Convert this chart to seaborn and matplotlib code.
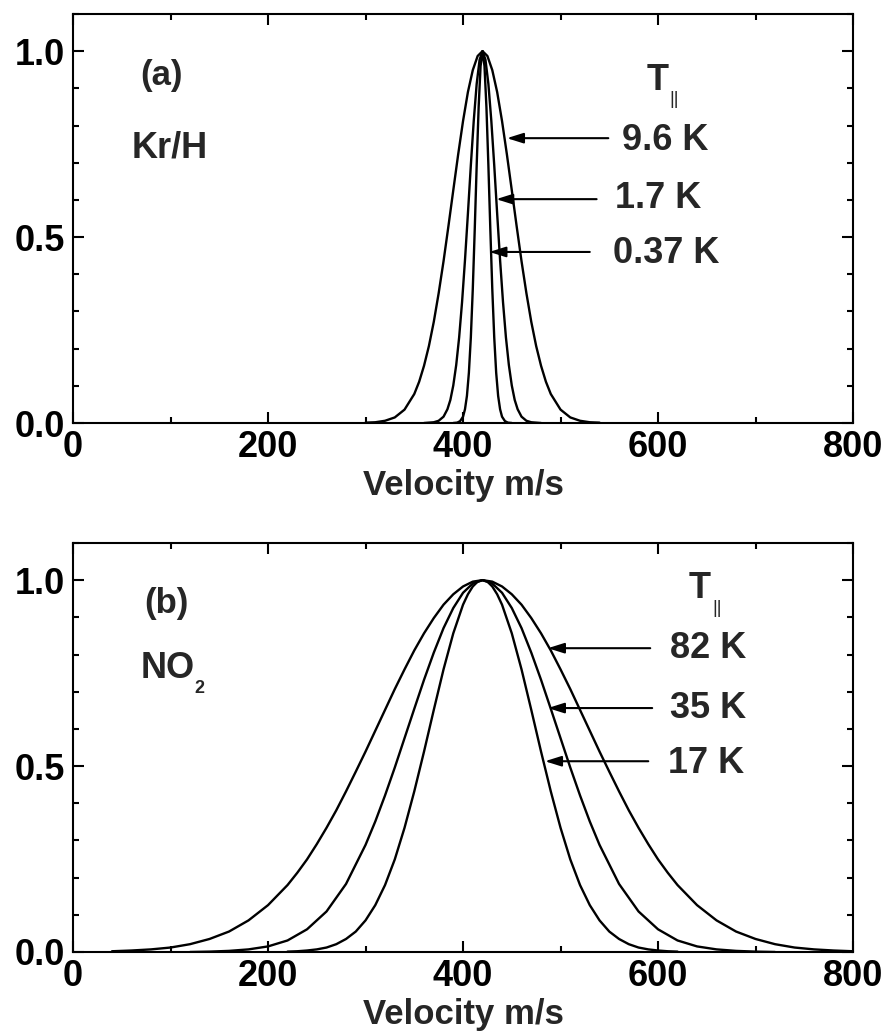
import numpy as np
import pandas as pd
import seaborn as sns
import matplotlib
matplotlib.use("Agg")
import matplotlib.pyplot as plt
from matplotlib.ticker import MultipleLocator

# ---------------- data ----------------
# Panel (a): Kr/H, parallel temperatures 9.6 K, 1.7 K, 0.37 K
kr_v_96 = [300, 310, 320, 330, 340, 350, 355, 360, 365, 370, 375, 380, 385, 390, 395,
           400, 405, 410, 415, 420, 425, 430, 435, 440, 445, 450, 455, 460, 465, 470,
           475, 480, 485, 490, 500, 510, 520, 530, 540]
kr_f_96 = [0.001, 0.002, 0.006, 0.015, 0.036, 0.078, 0.111, 0.154, 0.207, 0.272, 0.349,
           0.435, 0.529, 0.626, 0.722, 0.812, 0.890, 0.949, 0.987, 1.000, 0.987, 0.949,
           0.890, 0.812, 0.722, 0.626, 0.529, 0.435, 0.349, 0.272, 0.207, 0.154, 0.111,
           0.078, 0.036, 0.015, 0.006, 0.002, 0.001]

kr_v_17 = [360, 370, 375, 380, 384, 387, 390, 393, 396, 399, 402, 405, 408, 411, 414, 417,
           420, 423, 426, 429, 432, 435, 438, 441, 444, 447, 450, 453, 456, 460, 465, 470, 480]
kr_f_17 = [0.000, 0.002, 0.006, 0.017, 0.037, 0.062, 0.101, 0.156, 0.230, 0.325, 0.438,
           0.563, 0.693, 0.813, 0.912, 0.977, 1.000, 0.977, 0.912, 0.813, 0.693, 0.563,
           0.438, 0.325, 0.230, 0.156, 0.101, 0.062, 0.037, 0.017, 0.006, 0.002, 0.000]

kr_v_037 = [390, 394, 397, 400, 402, 404, 406, 408, 410, 412, 414, 416, 418, 420,
            422, 424, 426, 428, 430, 432, 434, 436, 438, 440, 443, 446, 450]
kr_f_037 = [0.000, 0.001, 0.005, 0.017, 0.037, 0.073, 0.135, 0.230, 0.360, 0.520, 0.693,
            0.849, 0.960, 1.000, 0.960, 0.849, 0.693, 0.520, 0.360, 0.230, 0.135, 0.073,
            0.037, 0.017, 0.005, 0.001, 0.000]

# Panel (b): NO2, parallel temperatures 82 K, 35 K, 17 K
no2_v_82 = [40, 60, 80, 100, 120, 140, 160, 180, 200, 220,
            230, 240, 250, 260, 270, 280, 290, 300, 310, 320, 330, 340, 350, 360, 370,
            380, 390, 400, 410, 420, 430, 440, 450, 460, 470, 480, 490, 500, 510, 520,
            530, 540, 550, 560, 570, 580, 590, 600, 610,
            620, 640, 660, 680, 700, 720, 740, 760, 780, 800]
no2_f_82 = [0.002, 0.004, 0.007, 0.012, 0.021, 0.035, 0.055, 0.085, 0.126, 0.180,
            0.213, 0.249, 0.290, 0.334, 0.381, 0.432, 0.485, 0.539, 0.595, 0.651, 0.707,
            0.760, 0.811, 0.857, 0.898, 0.934, 0.962, 0.983, 0.996, 1.000, 0.996, 0.983,
            0.962, 0.934, 0.898, 0.857, 0.811, 0.760, 0.707, 0.651, 0.595, 0.539, 0.485,
            0.432, 0.381, 0.334, 0.290, 0.249, 0.213,
            0.180, 0.126, 0.085, 0.055, 0.035, 0.021, 0.012, 0.007, 0.004, 0.002]

no2_v_35 = [120, 140, 160, 180, 200, 220, 240, 260, 280, 300, 310, 320, 330, 340, 350, 360,
            370, 380, 390, 400, 410, 420, 430, 440, 450, 460, 470, 480, 490, 500, 510, 520,
            530, 540, 560, 580, 600, 620, 640, 660, 680, 700, 720]
no2_f_35 = [0.000, 0.001, 0.003, 0.007, 0.015, 0.031, 0.061, 0.109, 0.183, 0.288, 0.351,
            0.421, 0.496, 0.575, 0.654, 0.732, 0.805, 0.871, 0.925, 0.966, 0.991, 1.000,
            0.991, 0.966, 0.925, 0.871, 0.805, 0.732, 0.654, 0.575, 0.496, 0.421, 0.351,
            0.288, 0.183, 0.109, 0.061, 0.031, 0.015, 0.007, 0.003, 0.001, 0.000]

no2_v_17 = [220, 230, 240, 250, 260, 270, 280, 290, 300, 310, 320, 330, 340, 350, 360, 370,
            380, 390, 400, 405, 410, 415, 420, 425, 430, 435, 440, 450, 460, 470, 480, 490,
            500, 510, 520, 530, 540, 550, 560, 570, 580, 590, 600, 610, 620]
no2_f_17 = [0.001, 0.002, 0.004, 0.007, 0.012, 0.021, 0.035, 0.055, 0.085, 0.126, 0.180,
            0.249, 0.334, 0.432, 0.539, 0.651, 0.760, 0.857, 0.934, 0.962, 0.983, 0.996,
            1.000, 0.996, 0.983, 0.962, 0.934, 0.857, 0.760, 0.651, 0.539, 0.432, 0.334,
            0.249, 0.180, 0.126, 0.085, 0.055, 0.035, 0.021, 0.012, 0.007, 0.004, 0.002,
            0.001]

temps_a = ["9.6 K", "1.7 K", "0.37 K"]
temps_b = ["82 K", "35 K", "17 K"]
x_major_ticks = [0, 200, 400, 600, 800]
y_major_ticks = [0.0, 0.5, 1.0]

# ---------------- style ----------------
sns.set_theme(style="ticks")
plt.rcParams["font.family"] = ["Liberation Sans", "DejaVu Sans"]
plt.rcParams["font.weight"] = "bold"
plt.rcParams["axes.linewidth"] = 1.5

fig = plt.figure(figsize=(8.85, 10.35), dpi=100)
ax_a = fig.add_axes([0.0825, 0.5913, 0.8814, 0.3952])
ax_b = fig.add_axes([0.0825, 0.0802, 0.8814, 0.3952])

curves_a = [(kr_v_96, kr_f_96), (kr_v_17, kr_f_17), (kr_v_037, kr_f_037)]
curves_b = [(no2_v_82, no2_f_82), (no2_v_35, no2_f_35), (no2_v_17, no2_f_17)]

for ax, curves in ((ax_a, curves_a), (ax_b, curves_b)):
    for v, f in curves:
        df = pd.DataFrame({"v": v, "f": f})
        sns.lineplot(data=df, x="v", y="f", ax=ax, color="black", lw=1.7,
                     estimator=None, sort=False)
    ax.set_xlim(0, 800)
    ax.set_ylim(0, 1.1)
    ax.set_xticks(x_major_ticks)
    ax.set_yticks(y_major_ticks)
    ax.xaxis.set_minor_locator(MultipleLocator(100))
    ax.yaxis.set_minor_locator(MultipleLocator(0.1))
    ax.tick_params(which="both", direction="in", top=True, right=True,
                   width=1.5, colors="black", labelsize=26)
    ax.tick_params(axis="x", which="both", pad=5)
    ax.tick_params(axis="y", which="both", pad=6)
    ax.tick_params(which="major", length=8)
    ax.tick_params(which="minor", length=4.5)
    for lab in ax.get_xticklabels() + ax.get_yticklabels():
        lab.set_fontweight("bold")
    ax.set_xlabel("Velocity m/s", fontsize=25, fontweight="bold", labelpad=3)
    ax.set_ylabel("")
    for s in ax.spines.values():
        s.set_linewidth(1.5)
        s.set_color("black")

arrow_kw = dict(arrowstyle="-|>,head_length=0.7,head_width=0.22", color="black",
                lw=1.5, shrinkA=0, shrinkB=0, mutation_scale=14)

# panel (a) annotations
ax_a.text(91, 0.935, "(a)", fontsize=25, fontweight="bold", ha="center", va="center")
ax_a.text(99.5, 0.715, "Kr/H", fontsize=26, fontweight="bold", ha="center", va="baseline")
ax_a.text(600, 0.895, "T", fontsize=26, fontweight="bold", ha="center", va="baseline")
ax_a.text(617, 0.871, "||", fontsize=13, fontweight="normal", ha="center", va="center")
arrows_a = [((445, 0.766), (549, 0.766)), ((434, 0.602), (537, 0.602)), ((427, 0.46), (530, 0.46))]
labels_a = [(563, 0.734), (556, 0.578), (554, 0.430)]
for (head, tail), (lx, ly), t in zip(arrows_a, labels_a, temps_a):
    ax_a.annotate("", xy=head, xytext=tail, arrowprops=arrow_kw)
    ax_a.text(lx, ly, t, fontsize=26, fontweight="bold", ha="left", va="baseline")

# panel (b) annotations
ax_b.text(95.4, 0.938, "(b)", fontsize=25, fontweight="bold", ha="center", va="center")
ax_b.text(97, 0.737, "NO", fontsize=26, fontweight="bold", ha="center", va="baseline")
ax_b.text(130, 0.696, "2", fontsize=13, fontweight="bold", ha="center", va="baseline")
ax_b.text(643, 0.952, "T", fontsize=26, fontweight="bold", ha="center", va="baseline")
ax_b.text(660.5, 0.925, "||", fontsize=13, fontweight="normal", ha="center", va="center")
arrows_b = [((487, 0.817), (592, 0.817)), ((487, 0.656), (594, 0.656)), ((484, 0.513), (590, 0.513))]
labels_b = [(612, 0.790), (612, 0.629), (610, 0.481)]
for (head, tail), (lx, ly), t in zip(arrows_b, labels_b, temps_b):
    ax_b.annotate("", xy=head, xytext=tail, arrowprops=arrow_kw)
    ax_b.text(lx, ly, t, fontsize=26, fontweight="bold", ha="left", va="baseline")

fig.savefig("out.png", dpi=100, facecolor="white")
